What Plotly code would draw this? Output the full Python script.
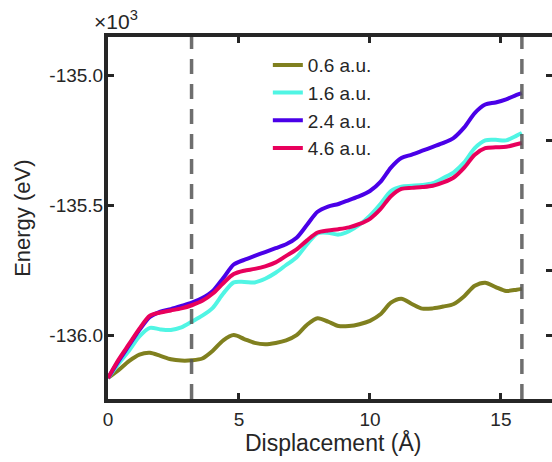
import plotly.graph_objects as go

# Displacement (Å)
x = [0, 0.4, 0.8, 1.2, 1.6, 2.0, 2.4, 2.8, 3.2, 3.6, 4.0, 4.4, 4.8, 5.2, 5.6, 6.0,
     6.4, 6.8, 7.2, 7.6, 8.0, 8.4, 8.8, 9.2, 9.6, 10.0, 10.4, 10.8, 11.2, 11.6, 12.0,
     12.4, 12.8, 13.2, 13.6, 14.0, 14.4, 14.8, 15.2, 15.6, 15.8]

# Energy in units of 10^3 eV
e_06 = [-136.165, -136.135, -136.10, -136.075, -136.068, -136.08, -136.093, -136.098,
        -136.097, -136.09, -136.06, -136.02, -136.0, -136.015, -136.03, -136.035,
        -136.03, -136.02, -136.0, -135.96, -135.935, -135.948, -135.965, -135.965,
        -135.958, -135.945, -135.92, -135.875, -135.86, -135.88, -135.898, -135.897,
        -135.89, -135.88, -135.85, -135.81, -135.798, -135.815, -135.83, -135.825, -135.822]
e_16 = [-136.165, -136.11, -136.06, -136.005, -135.972, -135.978, -135.98, -135.97,
        -135.948, -135.925, -135.895, -135.84, -135.797, -135.795, -135.797, -135.783,
        -135.76, -135.73, -135.70, -135.65, -135.608, -135.606, -135.613, -135.60,
        -135.575, -135.54, -135.495, -135.445, -135.428, -135.425, -135.422, -135.415,
        -135.395, -135.373, -135.335, -135.28, -135.25, -135.248, -135.25, -135.232, -135.222]
e_24 = [-136.165, -136.10, -136.04, -135.98, -135.93, -135.91, -135.90, -135.888,
        -135.875, -135.857, -135.83, -135.78, -135.728, -135.71, -135.695, -135.68,
        -135.665, -135.65, -135.625, -135.575, -135.525, -135.505, -135.495, -135.48,
        -135.465, -135.445, -135.41, -135.355, -135.318, -135.305, -135.29, -135.275,
        -135.26, -135.24, -135.20, -135.145, -135.112, -135.104, -135.092, -135.075, -135.068]
e_46 = [-136.165, -136.095, -136.035, -135.975, -135.925, -135.913, -135.905, -135.897,
        -135.885, -135.868, -135.84, -135.80, -135.765, -135.752, -135.745, -135.735,
        -135.72, -135.695, -135.67, -135.635, -135.605, -135.597, -135.592, -135.585,
        -135.572, -135.552, -135.515, -135.465, -135.437, -135.433, -135.43, -135.425,
        -135.412, -135.393, -135.355, -135.305, -135.28, -135.277, -135.275, -135.265, -135.26]

series_names = ["0.6 a.u.", "1.6 a.u.", "2.4 a.u.", "4.6 a.u."]
series_values = [e_06, e_16, e_24, e_46]
series_colors = ["#80801F", "#50F5E4", "#4A00E8", "#E8005C"]

vlines_x = [3.19, 15.8]
y_ticks = [-136.0, -135.5, -135.0]
y_tick_labels = ["-136.0", "-135.5", "-135.0"]
y_ticks_right = [-136.0, -135.75, -135.5, -135.25, -135.0]
x_ticks = [0, 5, 10, 15]

FONT = "Liberation Sans, Arial, sans-serif"
AX = "#262626"
TXT = "#262626"
x_range = [0, 16.95]
y_range = [-136.246, -134.852]

fig = go.Figure()
for name, vals, col in zip(series_names, series_values, series_colors):
    fig.add_trace(go.Scatter(x=x, y=vals, name=name, mode="lines",
                             line=dict(color=col, width=4, shape="spline", smoothing=0.8)))

# invisible trace to hold the right-hand axis
fig.add_trace(go.Scatter(x=[x[0]], y=[e_06[0]], yaxis="y2", mode="markers",
                         marker=dict(opacity=0), showlegend=False, hoverinfo="skip"))

for xv in vlines_x:
    fig.add_shape(type="line", xref="x", yref="paper", x0=xv, x1=xv, y0=0, y1=1,
                  line=dict(color="rgba(85,85,85,0.85)", width=3.5, dash="15px,10px"),
                  layer="above")

fig.update_layout(
    width=552, height=462,
    margin=dict(l=108, r=0, t=37, b=63),
    paper_bgcolor="white", plot_bgcolor="white",
    font=dict(family=FONT, size=19, color=TXT),
    showlegend=True,
    legend=dict(x=0.36, y=0.975, xanchor="left", yanchor="top",
                bgcolor="rgba(0,0,0,0)", font=dict(size=19, family=FONT, color=TXT),
                tracegroupgap=0),
    xaxis=dict(range=x_range, tickvals=x_ticks, ticks="inside", ticklen=6, tickwidth=3,
               tickcolor=AX, showline=True, linewidth=4, linecolor=AX, mirror="ticks",
               showgrid=False, zeroline=False,
               tickfont=dict(size=19, family=FONT, color=TXT)),
    yaxis=dict(range=y_range, tickvals=y_ticks, ticktext=y_tick_labels, ticks="inside",
               ticklen=6, tickwidth=3, tickcolor=AX, showline=True, linewidth=4,
               linecolor=AX, mirror=False, showgrid=False, zeroline=False,
               ticklabelstandoff=-3,
               tickfont=dict(size=19, family=FONT, color=TXT)),
    yaxis2=dict(range=y_range, overlaying="y", side="right", tickvals=y_ticks_right,
                ticks="inside", ticklen=6, tickwidth=3, tickcolor=AX, showticklabels=False,
                showline=True, linewidth=1, linecolor="#c8c8c8",
                showgrid=False, zeroline=False),
    annotations=[
        dict(text="×10<sup>3</sup>", xref="paper", yref="paper", x=-0.036, y=1.0,
             xanchor="left", yanchor="bottom", showarrow=False, yshift=2,
             font=dict(size=21, family=FONT, color=TXT)),
        dict(text="Displacement (Å)", xref="paper", yref="paper", x=0.507, y=-0.12,
             xanchor="center", yanchor="middle", showarrow=False,
             font=dict(size=23, family=FONT, color=TXT)),
        dict(text="Energy (eV)", xref="paper", yref="paper", x=-0.194, y=0.5,
             xanchor="center", yanchor="middle", showarrow=False, textangle=-90,
             font=dict(size=22, family=FONT, color=TXT)),
    ],
)

fig.write_html("out.html")
